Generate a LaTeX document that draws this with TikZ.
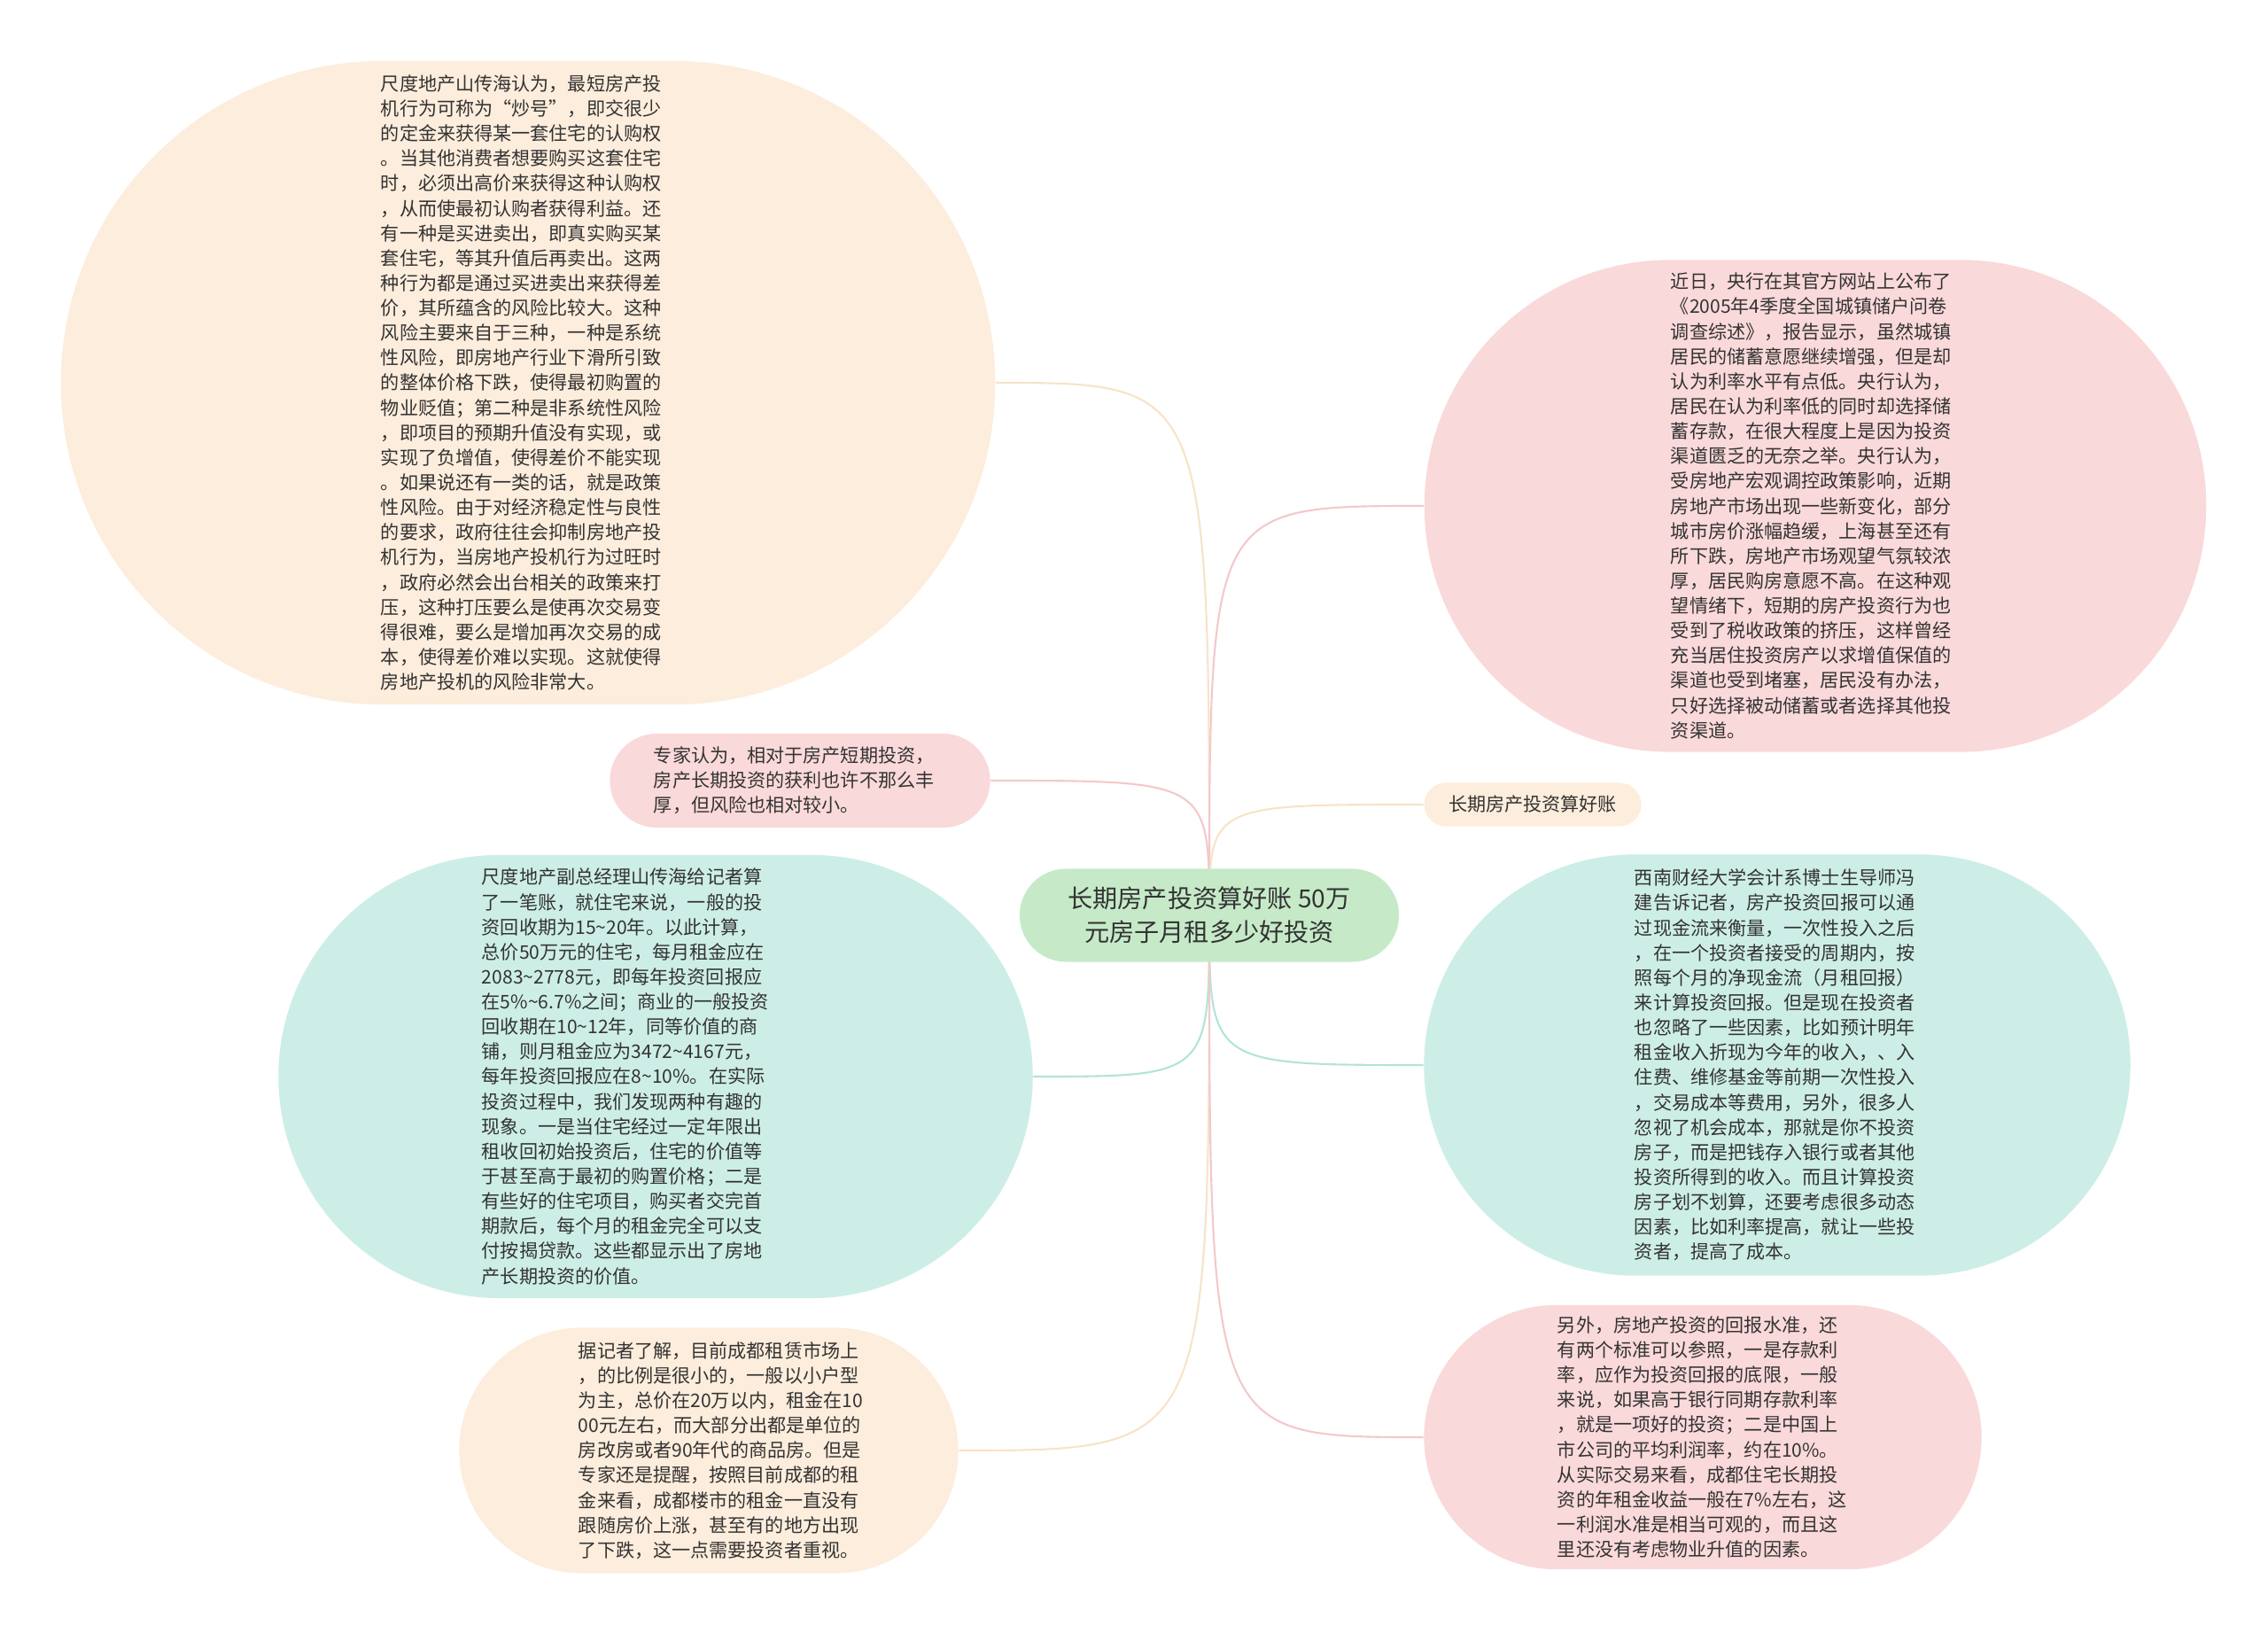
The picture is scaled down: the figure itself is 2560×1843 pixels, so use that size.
\documentclass[tikz,border=0pt]{standalone}
\usepackage{fontspec}
\setmainfont{Noto Sans CJK SC}
\usetikzlibrary{shapes.misc}
\usetikzlibrary{backgrounds}
\definecolor{peachfill}{RGB}{253,237,220}
\definecolor{pinkfill}{RGB}{250,217,218}
\definecolor{mintfill}{RGB}{205,238,230}
\definecolor{greenfill}{RGB}{198,234,200}
\definecolor{peachline}{RGB}{246,228,200}
\definecolor{pinkline}{RGB}{244,200,202}
\definecolor{mintline}{RGB}{178,228,216}
\definecolor{textgray}{RGB}{51,51,51}
\begin{document}
\begin{tikzpicture}[line cap=round,line join=round,x=0.01cm,y=-0.01cm,
  bubble/.style={rounded rectangle,inner sep=0pt,align=left,text=textgray,font=\fontsize{6}{8}\selectfont},
  link/.style={line width=0.6pt}]
\useasboundingbox (0,0) rectangle (2560,1843);
\node[bubble,fill=peachfill,text width=3.32cm,minimum width=10.54cm,minimum height=7.26cm] (tl) at (596,432) {尺度地产山传海认为，最短房产投\\
机行为可称为“炒号”，即交很少\\
的定金来获得某一套住宅的认购权\\
。当其他消费者想要购买这套住宅\\
时，必须出高价来获得这种认购权\\
，从而使最初认购者获得利益。还\\
有一种是买进卖出，即真实购买某\\
套住宅，等其升值后再卖出。这两\\
种行为都是通过买进卖出来获得差\\
价，其所蕴含的风险比较大。这种\\
风险主要来自于三种，一种是系统\\
性风险，即房地产行业下滑所引致\\
的整体价格下跌，使得最初购置的\\
物业贬值；第二种是非系统性风险\\
，即项目的预期升值没有实现，或\\
实现了负增值，使得差价不能实现\\
。如果说还有一类的话，就是政策\\
性风险。由于对经济稳定性与良性\\
的要求，政府往往会抑制房地产投\\
机行为，当房地产投机行为过旺时\\
，政府必然会出台相关的政策来打\\
压，这种打压要么是使再次交易变\\
得很难，要么是增加再次交易的成\\
本，使得差价难以实现。这就使得\\
房地产投机的风险非常大。};
\node[bubble,fill=pinkfill,text width=3.26cm,minimum width=8.82cm,minimum height=5.55cm] (rt) at (2049,571) {近日，央行在其官方网站上公布了\\
《2005年4季度全国城镇储户问卷\\
调查综述》，报告显示，虽然城镇\\
居民的储蓄意愿继续增强，但是却\\
认为利率水平有点低。央行认为，\\
居民在认为利率低的同时却选择储\\
蓄存款，在很大程度上是因为投资\\
渠道匮乏的无奈之举。央行认为，\\
受房地产宏观调控政策影响，近期\\
房地产市场出现一些新变化，部分\\
城市房价涨幅趋缓，上海甚至还有\\
所下跌，房地产市场观望气氛较浓\\
厚，居民购房意愿不高。在这种观\\
望情绪下，短期的房产投资行为也\\
受到了税收政策的挤压，这样曾经\\
充当居住投资房产以求增值保值的\\
渠道也受到堵塞，居民没有办法，\\
只好选择被动储蓄或者选择其他投\\
资渠道。};
\node[bubble,fill=pinkfill,text width=3.30cm,minimum width=4.29cm,minimum height=1.06cm] (sl) at (903,881) {专家认为，相对于房产短期投资，\\
房产长期投资的获利也许不那么丰\\
厚，但风险也相对较小。};
\node[bubble,fill=greenfill,align=center,font=\fontsize{8}{10.7}\selectfont,minimum width=4.28cm,minimum height=1.05cm] (ctr) at (1365,1033) {长期房产投资算好账 50万\\
元房子月租多少好投资};
\node[bubble,fill=peachfill,minimum width=2.45cm,minimum height=0.49cm] (sr) at (1730,908) {长期房产投资算好账};
\node[bubble,fill=mintfill,text width=3.92cm,minimum width=8.51cm,minimum height=5.00cm] (lm) at (740,1215) {尺度地产副总经理山传海给记者算\\
了一笔账，就住宅来说，一般的投\\
资回收期为15\textasciitilde20年。以此计算，\\
总价50万元的住宅，每月租金应在\\
2083\textasciitilde2778元，即每年投资回报应\\
在5\%\textasciitilde6.7\%之间；商业的一般投资\\
回收期在10\textasciitilde12年，同等价值的商\\
铺，则月租金应为3472\textasciitilde4167元，\\
每年投资回报应在8\textasciitilde10\%。在实际\\
投资过程中，我们发现两种有趣的\\
现象。一是当住宅经过一定年限出\\
租收回初始投资后，住宅的价值等\\
于甚至高于最初的购置价格；二是\\
有些好的住宅项目，购买者交完首\\
期款后，每个月的租金完全可以支\\
付按揭贷款。这些都显示出了房地\\
产长期投资的价值。};
\node[bubble,fill=mintfill,text width=3.22cm,minimum width=7.97cm,minimum height=4.75cm] (rm) at (2006,1202) {西南财经大学会计系博士生导师冯\\
建告诉记者，房产投资回报可以通\\
过现金流来衡量，一次性投入之后\\
，在一个投资者接受的周期内，按\\
照每个月的净现金流（月租回报）\\
来计算投资回报。但是现在投资者\\
也忽略了一些因素，比如预计明年\\
租金收入折现为今年的收入，、入\\
住费、维修基金等前期一次性投入\\
，交易成本等费用，另外，很多人\\
忽视了机会成本，那就是你不投资\\
房子，而是把钱存入银行或者其他\\
投资所得到的收入。而且计算投资\\
房子划不划算，还要考虑很多动态\\
因素，比如利率提高，就让一些投\\
资者，提高了成本。};
\node[bubble,fill=peachfill,text width=2.94cm,minimum width=5.63cm,minimum height=2.77cm] (bl) at (800,1637) {据记者了解，目前成都租赁市场上\\
，的比例是很小的，一般以小户型\\
为主，总价在20万以内，租金在10\\
00元左右，而大部分出都是单位的\\
房改房或者90年代的商品房。但是\\
专家还是提醒，按照目前成都的租\\
金来看，成都楼市的租金一直没有\\
跟随房价上涨，甚至有的地方出现\\
了下跌，这一点需要投资者重视。};
\node[bubble,fill=pinkfill,text width=3.28cm,minimum width=6.29cm,minimum height=2.98cm] (br) at (1922,1622) {另外，房地产投资的回报水准，还\\
有两个标准可以参照，一是存款利\\
率，应作为投资回报的底限，一般\\
来说，如果高于银行同期存款利率\\
，就是一项好的投资；二是中国上\\
市公司的平均利润率，约在10\%。\\
从实际交易来看，成都住宅长期投\\
资的年租金收益一般在7\%左右，这\\
一利润水准是相当可观的，而且这\\
里还没有考虑物业升值的因素。};
% connectors from the centre
\begin{scope}[on background layer]
\draw[link,peachline] (ctr.center) .. controls (ctr.center |- tl.east) .. (tl.east);
\draw[link,pinkline] (ctr.center) .. controls (ctr.center |- sl.east) .. (sl.east);
\draw[link,mintline] (ctr.center) .. controls (ctr.center |- lm.east) .. (lm.east);
\draw[link,peachline] (ctr.center) .. controls (ctr.center |- bl.east) .. (bl.east);
\draw[link,pinkline] (ctr.center) .. controls (ctr.center |- rt.west) .. (rt.west);
\draw[link,peachline] (ctr.center) .. controls (ctr.center |- sr.west) .. (sr.west);
\draw[link,mintline] (ctr.center) .. controls (ctr.center |- rm.west) .. (rm.west);
\draw[link,pinkline] (ctr.center) .. controls (ctr.center |- br.west) .. (br.west);
\end{scope}
\end{tikzpicture}
\end{document}
